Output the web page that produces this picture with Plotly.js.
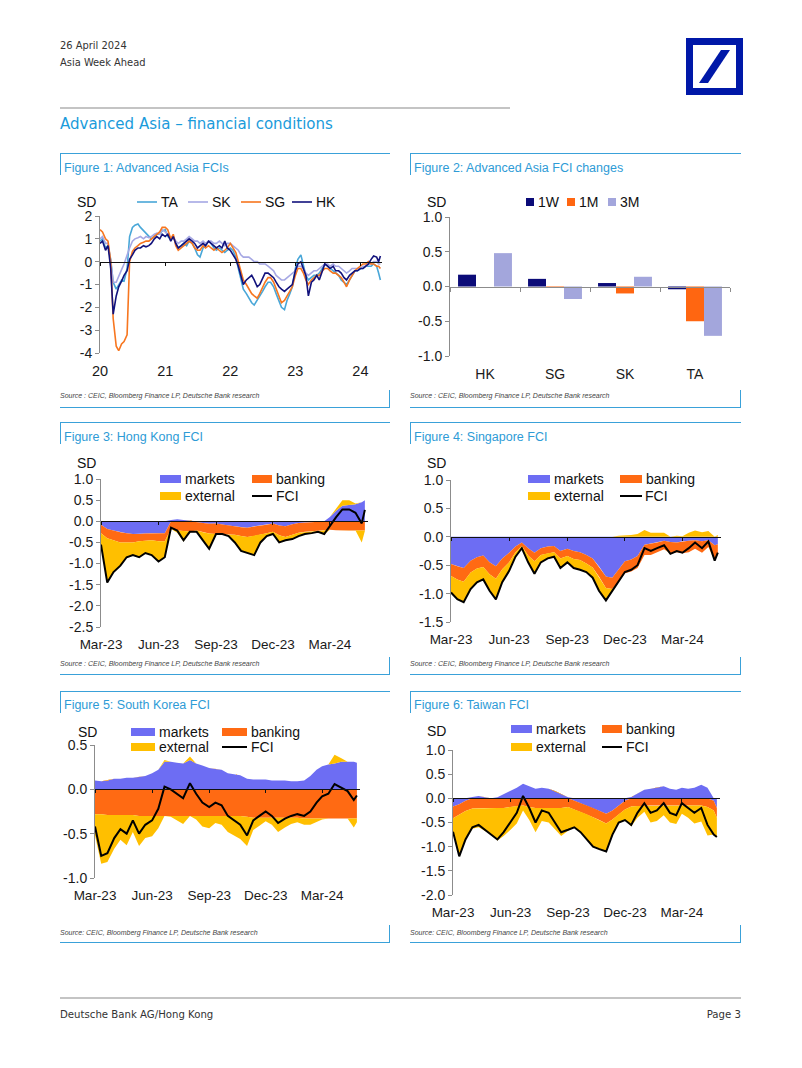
<!DOCTYPE html>
<html><head><meta charset="utf-8">
<script src="https://cdn.plot.ly/plotly-3.0.1.min.js"></script>
<style>
body{margin:0;background:#fff;}
#page{position:relative;width:802px;height:1068px;overflow:hidden;background:#fff;font-family:"Liberation Sans",Arial,sans-serif;}
.t{position:absolute;white-space:nowrap;}
.hdr{font-family:"Liberation Sans Narrow","DejaVu Sans Condensed","Liberation Sans",sans-serif;color:#333;font-size:11px;}
.sect{font-family:"Liberation Sans Narrow","DejaVu Sans Condensed","Liberation Sans",sans-serif;color:#1a9bdb;font-size:16.7px;}
.figt{color:#2e9bd6;font-size:12.5px;}
.src{font-style:italic;color:#444;font-size:7px;}
.hl{position:absolute;height:0;border-top:1.4px solid #3aa1d9;}
.vl{position:absolute;width:0;border-left:1.4px solid #3aa1d9;}
.gl{position:absolute;height:0;border-top:2px solid #c4c4c4;}
.chart{position:absolute;}
</style></head><body><div id="page">
<div class="t hdr" style="left:60px;top:39px;">26 April 2024</div>
<div class="t hdr" style="left:60px;top:56px;">Asia Week Ahead</div>
<svg style="position:absolute;left:686px;top:38px" width="57" height="57"><rect x="0" y="0" width="57" height="57" fill="#0018a8"/><rect x="7" y="7" width="43" height="43" fill="#fff"/><polygon points="13,45 22,45 44,12 35,12" fill="#0018a8"/></svg>
<div class="gl" style="left:60px;top:107px;width:450px;"></div>
<div class="t sect" style="left:60px;top:113px;">Advanced Asia – financial conditions</div>

<div id="frames"></div>

<div class="t figt" style="left:64px;top:161px;">Figure 1: Advanced Asia FCIs</div>
<div class="t figt" style="left:414px;top:161px;">Figure 2: Advanced Asia FCI changes</div>
<div class="t figt" style="left:64px;top:430px;">Figure 3: Hong Kong FCI</div>
<div class="t figt" style="left:414px;top:430px;">Figure 4: Singapore FCI</div>
<div class="t figt" style="left:64px;top:698px;">Figure 5: South Korea FCI</div>
<div class="t figt" style="left:414px;top:698px;">Figure 6: Taiwan FCI</div>

<div class="t src" style="left:60px;top:392px;">Source : CEIC, Bloomberg Finance LP, Deutsche Bank research</div>
<div class="t src" style="left:410px;top:392px;">Source : CEIC, Bloomberg Finance LP, Deutsche Bank research</div>
<div class="t src" style="left:60px;top:660px;">Source : CEIC, Bloomberg Finance LP, Deutsche Bank research</div>
<div class="t src" style="left:410px;top:660px;">Source : CEIC, Bloomberg Finance LP, Deutsche Bank research</div>
<div class="t src" style="left:60px;top:929px;">Source: CEIC, Bloomberg Finance LP, Deutsche Bank research</div>
<div class="t src" style="left:410px;top:929px;">Source: CEIC, Bloomberg Finance LP, Deutsche Bank research</div>

<div id="c1" class="chart"></div><div id="c2" class="chart"></div>
<div id="c3" class="chart"></div><div id="c4" class="chart"></div>
<div id="c5" class="chart"></div><div id="c6" class="chart"></div>

<div class="gl" style="left:60px;top:997px;width:681px;"></div>
<div class="t hdr" style="left:60px;top:1008px;font-size:11.3px;">Deutsche Bank AG/Hong Kong</div>
<div class="t hdr" style="right:61px;top:1008px;font-size:11.3px;">Page 3</div>
</div>
<script>
// ---------------- DATA ----------------
// Figure 1: Advanced Asia FCIs (SD), semi-monthly readings
var f1Dates = ['2020-01-01','2020-01-15','2020-02-01','2020-02-15','2020-03-01','2020-03-15','2020-04-01','2020-04-15','2020-05-01','2020-05-15','2020-06-01','2020-06-15','2020-07-01','2020-07-15','2020-08-01','2020-08-15','2020-09-01','2020-09-15','2020-10-01','2020-10-15','2020-11-01','2020-11-15','2020-12-01','2020-12-15',
'2021-01-01','2021-01-15','2021-02-01','2021-02-15','2021-03-01','2021-03-15','2021-04-01','2021-04-15','2021-05-01','2021-05-15','2021-06-01','2021-06-15','2021-07-01','2021-07-15','2021-08-01','2021-08-15','2021-09-01','2021-09-15','2021-10-01','2021-10-15','2021-11-01','2021-11-15','2021-12-01','2021-12-15',
'2022-01-01','2022-01-15','2022-02-01','2022-02-15','2022-03-01','2022-03-15','2022-04-01','2022-04-15','2022-05-01','2022-05-15','2022-06-01','2022-06-15','2022-07-01','2022-07-15','2022-08-01','2022-08-15','2022-09-01','2022-09-15','2022-10-01','2022-10-15','2022-11-01','2022-11-15','2022-12-01','2022-12-15',
'2023-01-01','2023-01-15','2023-02-01','2023-02-15','2023-03-01','2023-03-15','2023-04-01','2023-04-15','2023-05-01','2023-05-15','2023-06-01','2023-06-15','2023-07-01','2023-07-15','2023-08-01','2023-08-15','2023-09-01','2023-09-15','2023-10-01','2023-10-15','2023-11-01','2023-11-15','2023-12-01','2023-12-15',
'2024-01-01','2024-01-15','2024-02-01','2024-02-15','2024-03-01','2024-03-15','2024-04-01','2024-04-12','2024-04-22'];
var f1TA = [0.9,1.0,0.6,0.7,0.1,-0.9,-1.2,-1.0,-0.8,-0.85,-0.3,1.1,1.5,1.6,1.65,1.5,1.35,1.25,1.1,1.0,1.1,1.2,1.2,1.35,
1.4,1.1,1.0,1.1,0.8,0.6,0.7,0.8,0.7,0.9,0.8,0.6,0.3,0.2,0.6,0.7,0.9,0.8,0.6,0.5,0.6,0.5,0.4,0.5,
0.6,0.5,0.2,-0.3,-0.8,-1.2,-1.4,-1.6,-1.8,-1.9,-1.7,-1.5,-1.3,-1.1,-0.9,-0.9,-1.1,-1.4,-1.7,-2.0,-2.1,-1.7,-1.4,-1.1,
-0.3,0.1,0.3,-0.1,-0.6,-0.8,-0.7,-0.6,-0.6,-0.5,-0.3,-0.1,-0.2,-0.3,-0.4,-0.5,-0.6,-0.8,-0.9,-1.0,-0.8,-0.6,-0.4,-0.4,
-0.3,-0.3,-0.2,-0.2,-0.2,-0.1,-0.2,-0.5,-0.8];
var f1SK = [1.0,1.1,0.8,0.8,0.0,-0.9,-0.9,-0.6,-0.35,-0.1,0.3,0.6,0.9,1.0,1.05,1.1,1.0,1.1,1.05,1.1,1.2,1.25,1.2,1.4,
1.3,1.2,1.0,1.1,0.9,0.8,0.9,0.9,1.0,1.1,1.0,0.9,0.9,0.8,0.9,0.8,0.9,0.9,0.8,0.8,0.9,0.8,0.7,0.8,
0.8,0.7,0.6,0.5,0.3,0.2,0.2,0.2,0.1,0.0,0.0,-0.1,-0.1,-0.1,-0.2,-0.3,-0.4,-0.6,-0.7,-0.8,-0.8,-0.7,-0.6,-0.5,
-0.4,-0.2,-0.2,-0.3,-0.5,-0.6,-0.5,-0.4,-0.4,-0.3,-0.2,-0.1,-0.1,-0.2,-0.1,-0.2,-0.2,-0.3,-0.4,-0.5,-0.4,-0.3,-0.3,-0.3,
-0.3,-0.2,-0.2,-0.1,-0.1,0.0,0.0,-0.1,-0.1];
var f1SG = [1.4,1.3,1.0,0.9,0.0,-2.5,-3.7,-3.9,-3.6,-3.5,-3.2,0.0,0.45,0.6,0.7,0.8,0.85,0.9,0.9,1.0,1.1,1.2,1.3,1.5,
1.5,1.4,1.0,1.2,0.7,0.5,0.6,0.7,0.8,0.9,0.8,0.6,0.5,0.5,0.7,0.6,0.7,0.6,0.5,0.6,0.5,0.4,0.5,0.6,
0.8,0.6,0.4,0.0,-0.4,-0.8,-1.0,-1.2,-1.4,-1.5,-1.6,-1.4,-1.1,-0.9,-0.7,-0.7,-0.9,-1.2,-1.5,-1.8,-1.7,-1.5,-1.3,-1.1,
-0.6,-0.3,-0.3,-0.5,-0.8,-1.0,-0.8,-0.7,-0.6,-0.6,-0.4,-0.3,-0.3,-0.4,-0.5,-0.5,-0.6,-0.7,-0.9,-1.1,-0.8,-0.6,-0.4,-0.3,
-0.2,-0.1,-0.1,0.0,-0.1,-0.1,-0.2,-0.2,-0.3];
var f1HK = [0.8,0.9,0.5,0.7,-0.3,-2.3,-1.5,-1.1,-0.85,-0.6,-0.4,0.1,0.3,0.5,0.6,0.6,0.7,0.65,0.7,0.8,1.0,1.1,1.0,1.2,
1.1,1.2,0.9,1.1,0.8,0.6,0.7,0.8,0.9,1.0,0.9,0.8,0.6,0.7,0.8,0.7,0.9,0.8,0.7,0.6,0.7,0.6,0.9,0.6,
0.5,0.3,0.1,-0.2,-0.6,-1.0,-0.8,-0.7,-0.6,-0.8,-1.1,-1.0,-0.7,-0.5,-0.5,-0.6,-0.7,-0.9,-1.1,-1.2,-1.3,-1.2,-1.1,-1.0,
-0.4,-0.1,0.0,-0.3,-0.6,-1.5,-0.9,-0.8,-0.6,-0.8,-0.4,-0.1,-0.2,-0.3,-0.2,-0.4,-0.4,-0.5,-0.7,-0.8,-0.6,-0.5,-0.4,-0.4,
-0.3,-0.3,-0.2,-0.1,0.1,0.25,0.2,0.0,0.25];
var f1Names = ['TA','SK','SG','HK'];

// Figure 2: FCI changes (SD)
var f2Cats = ['HK','SG','SK','TA'];
var f2W1 = [0.17,0.11,0.05,-0.04];
var f2M1 = [0.00,-0.01,-0.10,-0.50];
var f2M3 = [0.48,-0.18,0.14,-0.71];
var f2Names = ['1W','1M','3M'];

// Figures 3-6: FCI decompositions (SD), readings every ~10 days
var fDates = ['2023-03-01','2023-03-11','2023-03-21','2023-04-01','2023-04-11','2023-04-21','2023-05-01','2023-05-11','2023-05-21','2023-06-01','2023-06-11','2023-06-21',
'2023-07-01','2023-07-11','2023-07-21','2023-08-01','2023-08-11','2023-08-21','2023-09-01','2023-09-11','2023-09-21','2023-10-01','2023-10-11','2023-10-21',
'2023-11-01','2023-11-11','2023-11-21','2023-12-01','2023-12-11','2023-12-21','2024-01-01','2024-01-11','2024-01-21','2024-02-01','2024-02-11','2024-02-21',
'2024-03-01','2024-03-11','2024-03-21','2024-04-01','2024-04-11','2024-04-21','2024-04-26'];
var qTickVals = ['2023-03-01','2023-06-01','2023-09-01','2023-12-01','2024-03-01'];
var qTickText = ['Mar-23','Jun-23','Sep-23','Dec-23','Mar-24'];
var compNames = ['markets','banking','external','FCI'];

var hkMarkets = [-0.08,-0.18,-0.22,-0.26,-0.28,-0.30,-0.30,-0.29,-0.28,-0.28,-0.28,0.03,0.05,0.03,0.01,-0.02,-0.04,-0.06,-0.05,-0.08,-0.10,-0.12,-0.14,-0.15,-0.12,-0.10,-0.08,-0.05,-0.10,-0.12,-0.07,-0.04,-0.03,-0.02,-0.01,0.00,0.10,0.25,0.37,0.38,0.40,0.45,0.50];
var hkBanking = [-0.20,-0.22,-0.23,-0.24,-0.22,-0.20,-0.17,-0.17,-0.17,-0.19,-0.19,-0.18,-0.22,-0.23,-0.24,-0.20,-0.22,-0.23,-0.25,-0.23,-0.22,-0.20,-0.21,-0.22,-0.23,-0.21,-0.20,-0.20,-0.23,-0.25,-0.25,-0.23,-0.22,-0.22,-0.22,-0.22,-0.20,-0.21,-0.22,-0.22,-0.22,-0.22,-0.22];
var hkExternal = [-0.27,-1.05,-0.75,-0.55,-0.35,-0.30,-0.38,-0.29,-0.35,-0.48,-0.38,0.00,-0.05,-0.25,-0.02,-0.03,-0.19,-0.36,0.00,0.01,-0.03,-0.18,-0.35,-0.38,-0.45,-0.19,-0.07,-0.05,-0.17,-0.08,-0.10,-0.08,-0.05,-0.04,-0.02,-0.08,0.00,0.06,0.13,0.12,0.02,-0.28,-0.01];
var hkFCI = [-0.55,-1.45,-1.20,-1.05,-0.85,-0.80,-0.85,-0.75,-0.80,-0.95,-0.85,-0.15,-0.22,-0.45,-0.25,-0.25,-0.45,-0.65,-0.30,-0.30,-0.35,-0.50,-0.70,-0.75,-0.80,-0.50,-0.35,-0.30,-0.50,-0.45,-0.42,-0.35,-0.30,-0.28,-0.25,-0.30,-0.10,0.10,0.28,0.28,0.20,-0.05,0.27];

var sgMarkets = [-0.48,-0.52,-0.55,-0.42,-0.36,-0.33,-0.45,-0.52,-0.38,-0.28,-0.17,-0.10,-0.20,-0.28,-0.20,-0.17,-0.16,-0.25,-0.21,-0.25,-0.27,-0.32,-0.38,-0.52,-0.70,-0.72,-0.58,-0.43,-0.40,-0.34,-0.14,-0.12,-0.10,-0.07,-0.09,-0.10,-0.08,-0.07,-0.06,-0.08,-0.06,-0.15,-0.13];
var sgBanking = [-0.21,-0.23,-0.24,-0.21,-0.20,-0.20,-0.21,-0.22,-0.19,-0.17,-0.10,-0.06,-0.13,-0.15,-0.12,-0.12,-0.11,-0.13,-0.13,-0.14,-0.14,-0.15,-0.16,-0.18,-0.20,-0.20,-0.22,-0.21,-0.21,-0.21,-0.18,-0.20,-0.17,-0.15,-0.20,-0.17,-0.21,-0.20,-0.15,-0.20,-0.12,-0.24,-0.18];
var sgExternal = [-0.29,-0.35,-0.36,-0.29,-0.24,-0.22,-0.29,-0.36,-0.23,-0.15,-0.08,-0.04,-0.12,-0.22,-0.13,-0.09,-0.08,-0.17,-0.11,-0.16,-0.17,-0.15,-0.18,-0.25,-0.22,-0.03,0.02,0.02,0.03,0.05,0.12,0.07,0.07,0.07,-0.01,0.02,0.01,0.07,0.11,0.08,0.10,-0.03,0.03];
var sgFCI = [-0.98,-1.10,-1.15,-0.92,-0.80,-0.75,-0.95,-1.10,-0.80,-0.60,-0.35,-0.20,-0.45,-0.65,-0.45,-0.38,-0.35,-0.55,-0.45,-0.55,-0.58,-0.62,-0.72,-0.95,-1.12,-0.95,-0.78,-0.62,-0.58,-0.50,-0.20,-0.25,-0.20,-0.15,-0.30,-0.25,-0.28,-0.20,-0.10,-0.20,-0.08,-0.42,-0.28];

var skMarkets = [0.10,0.09,0.10,0.12,0.12,0.13,0.13,0.14,0.15,0.18,0.22,0.31,0.31,0.30,0.29,0.33,0.29,0.27,0.24,0.23,0.22,0.18,0.17,0.16,0.12,0.11,0.11,0.11,0.10,0.10,0.10,0.09,0.09,0.10,0.15,0.22,0.26,0.28,0.29,0.31,0.31,0.31,0.30];
var skBanking = [-0.28,-0.28,-0.29,-0.29,-0.29,-0.29,-0.29,-0.30,-0.30,-0.30,-0.30,-0.30,-0.30,-0.30,-0.30,-0.30,-0.30,-0.30,-0.30,-0.30,-0.30,-0.30,-0.30,-0.30,-0.31,-0.32,-0.32,-0.32,-0.32,-0.32,-0.32,-0.32,-0.32,-0.33,-0.33,-0.33,-0.33,-0.33,-0.33,-0.33,-0.33,-0.33,-0.33];
var skExternal = [-0.24,-0.56,-0.53,-0.38,-0.28,-0.34,-0.19,-0.34,-0.25,-0.23,-0.14,0.02,-0.01,-0.05,-0.09,0.04,-0.04,-0.12,-0.14,-0.08,-0.10,-0.18,-0.22,-0.26,-0.33,-0.14,-0.09,-0.04,-0.08,-0.16,-0.11,-0.07,-0.05,-0.07,-0.07,-0.04,-0.01,0.00,0.10,0.04,0.00,-0.10,-0.04];
var skFCI = [-0.42,-0.75,-0.72,-0.55,-0.45,-0.50,-0.35,-0.50,-0.40,-0.35,-0.22,0.03,0.00,-0.05,-0.10,0.07,-0.05,-0.15,-0.20,-0.15,-0.18,-0.30,-0.35,-0.40,-0.52,-0.35,-0.30,-0.25,-0.30,-0.38,-0.33,-0.30,-0.28,-0.30,-0.25,-0.15,-0.08,-0.05,0.06,0.02,-0.02,-0.12,-0.07];

var twMarkets = [-0.17,-0.12,-0.05,0.03,0.05,0.02,0.00,0.02,0.08,0.15,0.22,0.30,0.25,0.20,0.22,0.20,0.15,0.08,0.02,-0.05,-0.10,-0.15,-0.20,-0.25,-0.32,-0.25,-0.15,-0.05,0.03,0.10,0.18,0.20,0.22,0.25,0.20,0.18,0.22,0.20,0.22,0.28,0.22,-0.05,-0.20];
var twBanking = [-0.24,-0.22,-0.21,-0.21,-0.20,-0.20,-0.20,-0.20,-0.20,-0.18,-0.16,-0.15,-0.18,-0.20,-0.20,-0.20,-0.20,-0.20,-0.18,-0.18,-0.18,-0.18,-0.19,-0.20,-0.20,-0.19,-0.18,-0.18,-0.17,-0.16,-0.15,-0.15,-0.15,-0.15,-0.15,-0.15,-0.15,-0.15,-0.15,-0.15,-0.18,-0.20,-0.20];
var twExternal = [-0.28,-0.86,-0.59,-0.42,-0.40,-0.47,-0.55,-0.67,-0.58,-0.47,-0.36,-0.10,-0.27,-0.50,-0.27,-0.30,-0.45,-0.58,-0.49,-0.37,-0.42,-0.52,-0.61,-0.60,-0.58,-0.31,-0.17,-0.22,-0.41,-0.24,-0.13,-0.35,-0.32,-0.20,-0.35,-0.38,-0.17,-0.25,-0.37,-0.33,-0.59,-0.50,-0.40];
var twFCI = [-0.69,-1.20,-0.85,-0.60,-0.55,-0.65,-0.75,-0.85,-0.70,-0.50,-0.30,0.05,-0.20,-0.50,-0.25,-0.30,-0.50,-0.70,-0.65,-0.60,-0.70,-0.85,-1.00,-1.05,-1.10,-0.75,-0.50,-0.45,-0.55,-0.30,-0.10,-0.30,-0.25,-0.10,-0.30,-0.35,-0.10,-0.20,-0.30,-0.20,-0.55,-0.75,-0.80];

// ---------------- STYLE / GEOMETRY ----------------
var FONT = '"Liberation Sans", Arial, sans-serif';
var C1 = ['#49a7d8','#a6a8e4','#f7761f','#12127c'];
var C2 = ['#0b0b78','#ff6611','#a3a6dc'];
var CC = ['#6d6df3','#ff6a13','#ffbf00','#000000'];

(function(){
  var fr = document.getElementById('frames'); var h='';
  var panels = [[60,390,153,407],[410,741,153,407],[60,390,422,674],[410,741,422,674],[60,390,691,942],[410,741,691,942]];
  panels.forEach(function(p){
    h += '<div class="hl" style="left:'+p[0]+'px;top:'+p[2]+'px;width:'+(p[1]-p[0])+'px"></div>';
    h += '<div class="vl" style="left:'+p[0]+'px;top:'+p[2]+'px;height:22px"></div>';
    h += '<div class="hl" style="left:'+p[0]+'px;top:'+p[3]+'px;width:'+(p[1]-p[0])+'px"></div>';
    h += '<div class="vl" style="left:'+(p[1]-1)+'px;top:'+(p[3]-17)+'px;height:17px"></div>';
  });
  fr.innerHTML = h;
})();

function place(id, g){
  var d = document.getElementById(id);
  d.style.left = g.dl+'px'; d.style.top = g.dt+'px'; d.style.width = g.dw+'px'; d.style.height = g.dh+'px';
}
function margins(g){ return {l:g.pl-g.dl, r:g.dl+g.dw-g.pr, t:g.pt-g.dt, b:g.dt+g.dh-g.pb, pad:0}; }
function PX(g,x){ return (x-g.pl)/(g.pr-g.pl); }
function PY(g,y){ return (g.pb-y)/(g.pb-g.pt); }
function legend(g, sd, items){
  var shapes=[], ann=[];
  ann.push({xref:'paper',yref:'paper',x:PX(g,sd[0]),y:PY(g,sd[1]),xanchor:'left',yanchor:'middle',text:'SD',showarrow:false,font:{family:FONT,size:14,color:'#111'}});
  items.forEach(function(it){
    if(it.k==='line'){
      shapes.push({type:'line',xref:'paper',yref:'paper',x0:PX(g,it.x0),x1:PX(g,it.x1),y0:PY(g,it.y),y1:PY(g,it.y),line:{color:it.c,width:it.w||2}});
    } else {
      var hh = it.h||4;
      shapes.push({type:'rect',xref:'paper',yref:'paper',x0:PX(g,it.x0),x1:PX(g,it.x1),y0:PY(g,it.y+hh),y1:PY(g,it.y-hh),fillcolor:it.c,line:{width:0}});
    }
    ann.push({xref:'paper',yref:'paper',x:PX(g,it.x1+1.5),y:PY(g,it.y),xanchor:'left',yanchor:'middle',text:it.t,showarrow:false,font:{family:FONT,size:14,color:'#111'}});
  });
  return {shapes:shapes, annotations:ann};
}
function yAxis(lo,hi,vals,text){
  return {range:[lo,hi],tickvals:vals,ticktext:text,showgrid:false,zeroline:false,showline:true,linecolor:'#8c8c8c',linewidth:1,
    ticks:'outside',ticklen:4,tickcolor:'#8c8c8c',tickfont:{family:FONT,size:14,color:'#1a1a1a'},fixedrange:true};
}
function zeroAxis(base, pos, color){
  var a = {overlaying:'x',anchor:'free',position:pos,showticklabels:false,ticks:'outside',ticklen:3,tickcolor:color,
    showline:true,linecolor:color,linewidth:1,showgrid:false,zeroline:false,fixedrange:true};
  for (var k in base) a[k]=base[k];
  return a;
}
var CFG = {staticPlot:true, displayModeBar:false};

function stackTraces(dates, comps, colors){
  var n = dates.length, pos = [], neg = [], out = [];
  for (var i=0;i<n;i++){ pos.push(0); neg.push(0); }
  var xs = dates.concat(dates.slice().reverse());
  comps.forEach(function(vals,k){
    var pLo = pos.slice(), nHi = neg.slice(), pHi = [], nLo = [];
    for (var i=0;i<n;i++){
      pHi.push(pos[i] + Math.max(vals[i],0));
      nLo.push(neg[i] + Math.min(vals[i],0));
      pos[i] = pHi[i]; neg[i] = nLo[i];
    }
    [[pHi,pLo],[nLo,nHi]].forEach(function(pr){
      out.push({x:xs, y:pr[0].concat(pr[1].slice().reverse()), type:'scatter', mode:'lines', fill:'toself',
        fillcolor:colors[k], line:{width:0}, hoverinfo:'skip', showlegend:false});
    });
  });
  return out;
}

// ---------------- FIGURE 1 ----------------
(function(){
  var g = {dl:60, dt:185, dw:330, dh:205, pl:100, pr:382, pt:216, pb:353};
  place('c1', g);
  var series = [f1TA, f1SK, f1SG, f1HK];
  var traces = series.map(function(s,i){
    return {x:f1Dates, y:s, type:'scatter', mode:'lines', name:f1Names[i], line:{color:C1[i], width:1.6}, showlegend:false, hoverinfo:'skip'};
  });
  traces.push({x:f1Dates, y:f1HK, xaxis:'x2', type:'scatter', mode:'lines', opacity:0, line:{width:0}, showlegend:false, hoverinfo:'skip'});
  var xr = ['2020-01-01','2024-05-01'];
  var xt = ['2020-01-01','2021-01-01','2022-01-01','2023-01-01','2024-01-01'];
  var lg = legend(g, [75,202], [
    {k:'line',x0:137,x1:157,y:202,c:C1[0],t:'TA',w:1.6},
    {k:'line',x0:188,x1:208,y:202,c:C1[1],t:'SK',w:1.6},
    {k:'line',x0:241,x1:261,y:202,c:C1[2],t:'SG',w:1.6},
    {k:'line',x0:292,x1:312,y:202,c:C1[3],t:'HK',w:1.6}]);
  var layout = {width:g.dw, height:g.dh, margin:margins(g), paper_bgcolor:'rgba(0,0,0,0)', plot_bgcolor:'rgba(0,0,0,0)', showlegend:false,
    xaxis:{type:'date',range:xr,tickvals:xt,ticktext:['20','21','22','23','24'],showgrid:false,zeroline:false,showline:false,
      ticks:'outside',ticklen:5,tickcolor:'rgba(0,0,0,0)',tickfont:{family:FONT,size:14.5,color:'#1a1a1a'},fixedrange:true},
    xaxis2:zeroAxis({type:'date',range:xr,tickvals:xt}, 4/6, '#111'),
    yaxis:yAxis(-4,2,[-4,-3,-2,-1,0,1,2],['-4','-3','-2','-1','0','1','2']),
    shapes:lg.shapes, annotations:lg.annotations};
  Plotly.newPlot('c1', traces, layout, CFG);
})();

// ---------------- FIGURE 2 ----------------
(function(){
  var g = {dl:410, dt:185, dw:331, dh:205, pl:450, pr:730, pt:217, pb:356};
  place('c2', g);
  var vals = [f2W1, f2M1, f2M3];
  var traces = vals.map(function(v,i){
    return {x:f2Cats, y:v, type:'bar', name:f2Names[i], marker:{color:C2[i], line:{width:0}}, showlegend:false, hoverinfo:'skip'};
  });
  traces.push({x:f2Cats, y:f2W1, xaxis:'x2', type:'scatter', mode:'markers', opacity:0, showlegend:false, hoverinfo:'skip'});
  var lg = legend(g, [425,202], [
    {k:'rect',x0:526,x1:534,y:202,c:C2[0],t:'1W'},
    {k:'rect',x0:567,x1:575,y:202,c:C2[1],t:'1M'},
    {k:'rect',x0:608,x1:616,y:202,c:C2[2],t:'3M'}]);
  var layout = {width:g.dw, height:g.dh, margin:margins(g), paper_bgcolor:'rgba(0,0,0,0)', plot_bgcolor:'rgba(0,0,0,0)', showlegend:false,
    barmode:'group', bargap:0.23, bargroupgap:0,
    xaxis:{type:'category',categoryarray:f2Cats,range:[-0.5,3.5],showgrid:false,zeroline:false,showline:false,
      ticks:'outside',ticklen:5,tickcolor:'rgba(0,0,0,0)',tickfont:{family:FONT,size:14,color:'#1a1a1a'},fixedrange:true},
    xaxis2:zeroAxis({type:'category',categoryarray:f2Cats,range:[-0.5,3.5],tickson:'boundaries'}, 0.5, '#8c8c8c'),
    yaxis:yAxis(-1,1,[-1,-0.5,0,0.5,1],['-1.0','-0.5','0.0','0.5','1.0']),
    shapes:lg.shapes, annotations:lg.annotations};
  layout.xaxis2.ticklen = 4;
  Plotly.newPlot('c2', traces, layout, CFG);
})();

// ---------------- FIGURES 3-6 ----------------
function decompChart(id, g, comps, fci, yr, yv, yt, leg){
  place(id, g);
  var traces = stackTraces(fDates, comps, CC);
  traces.push({x:fDates, y:fci, type:'scatter', mode:'lines', name:'FCI', line:{color:'#000', width:2}, showlegend:false, hoverinfo:'skip'});
  traces.push({x:fDates, y:fci, xaxis:'x2', type:'scatter', mode:'lines', opacity:0, line:{width:0}, showlegend:false, hoverinfo:'skip'});
  var xr = ['2023-03-01','2024-05-01'];
  var L = leg;
  var lg = legend(g, L.sd, [
    {k:'rect',x0:L.c1[0],x1:L.c1[1],y:L.r1,c:CC[0],t:compNames[0]},
    {k:'rect',x0:L.c2[0],x1:L.c2[1],y:L.r1,c:CC[1],t:compNames[1]},
    {k:'rect',x0:L.c1[0],x1:L.c1[1],y:L.r2,c:CC[2],t:compNames[2]},
    {k:'line',x0:L.c2[0],x1:L.c2[1],y:L.r2,c:CC[3],t:compNames[3],w:2}]);
  var layout = {width:g.dw, height:g.dh, margin:margins(g), paper_bgcolor:'rgba(0,0,0,0)', plot_bgcolor:'rgba(0,0,0,0)', showlegend:false,
    xaxis:{type:'date',range:xr,tickvals:qTickVals,ticktext:qTickText,showgrid:false,zeroline:false,showline:false,
      ticks:'outside',ticklen:5,tickcolor:'rgba(0,0,0,0)',tickfont:{family:FONT,size:13.5,color:'#1a1a1a'},fixedrange:true},
    xaxis2:zeroAxis({type:'date',range:xr,tickvals:qTickVals}, (0-yr[0])/(yr[1]-yr[0]), '#111'),
    yaxis:yAxis(yr[0],yr[1],yv,yt),
    shapes:lg.shapes, annotations:lg.annotations};
  Plotly.newPlot(id, traces, layout, CFG);
}

decompChart('c3', {dl:60, dt:445, dw:330, dh:215, pl:101, pr:368, pt:479, pb:627},
  [hkMarkets, hkBanking, hkExternal], hkFCI, [-2.5,1],
  [-2.5,-2,-1.5,-1,-0.5,0,0.5,1], ['-2.5','-2.0','-1.5','-1.0','-0.5','0.0','0.5','1.0'],
  {sd:[75,463], r1:479, r2:496, c1:[160,181], c2:[252,272]});

decompChart('c4', {dl:410, dt:445, dw:331, dh:215, pl:451, pr:721, pt:480, pb:622},
  [sgMarkets, sgBanking, sgExternal], sgFCI, [-1.5,1],
  [-1.5,-1,-0.5,0,0.5,1], ['-1.5','-1.0','-0.5','0.0','0.5','1.0'],
  {sd:[425,463], r1:479, r2:496, c1:[528,550], c2:[620,642]});

decompChart('c5', {dl:60, dt:715, dw:330, dh:215, pl:95, pr:360, pt:745, pb:878},
  [skMarkets, skBanking, skExternal], skFCI, [-1,0.5],
  [-1,-0.5,0,0.5], ['-1.0','-0.5','0.0','0.5'],
  {sd:[76,732], r1:732, r2:747, c1:[131,155], c2:[222,247]});

decompChart('c6', {dl:410, dt:715, dw:331, dh:215, pl:453, pr:720, pt:750, pb:895},
  [twMarkets, twBanking, twExternal], twFCI, [-2,1],
  [-2,-1.5,-1,-0.5,0,0.5,1], ['-2.0','-1.5','-1.0','-0.5','0.0','0.5','1.0'],
  {sd:[425,731], r1:729, r2:747, c1:[511,532], c2:[602,622]});
</script>
</body></html>
